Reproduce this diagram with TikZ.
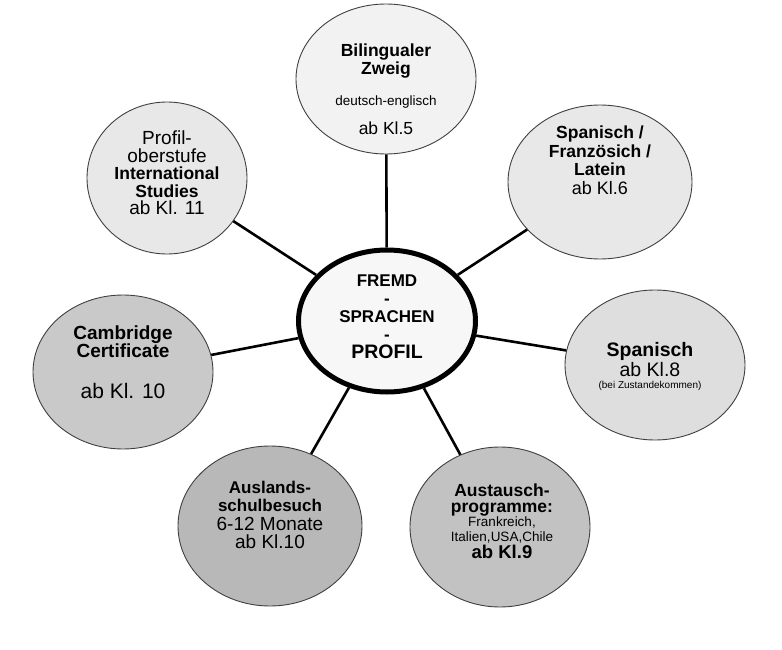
\documentclass[tikz,border=0pt]{standalone}
\usepackage{fontspec}
\setmainfont{Liberation Sans}
\usetikzlibrary{shapes.geometric}
\newcommand{\normsz}{\fontsize{17.5}{18.5}\selectfont}
\newcommand{\regsz}{\fontsize{19}{18.5}\selectfont}
\newcommand{\smlsz}{\fontsize{13.5}{14}\selectfont}
\newcommand{\tnysz}{\fontsize{10}{11}\selectfont}
\tikzset{
  bubble/.style={ellipse, draw=black!75, line width=0.9pt, inner sep=0pt},
  hub/.style={ellipse, draw=black, line width=5pt, fill=black!3, inner sep=0pt,
    minimum width=177pt, minimum height=142pt},
  txt/.style={align=center, font=\normsz, inner sep=0pt},
  spoke/.style={line width=2.6pt}
}

\begin{document}
\begin{tikzpicture}[x=1pt,y=-1pt]
\useasboundingbox (0,0) rectangle (782,650);

% the bubbles
\node[bubble, fill=black!5, minimum width=180pt, minimum height=150pt] (bil) at (386,79) {};
\node[bubble, fill=black!9, minimum width=160pt, minimum height=152pt] (prof) at (167,178) {};
\node[bubble, fill=black!9, minimum width=184pt, minimum height=154pt] (spfr) at (600,182) {};
\node[bubble, fill=black!21, minimum width=180pt, minimum height=154pt] (camb) at (123,372) {};
\node[bubble, fill=black!13, minimum width=180pt, minimum height=150pt] (span) at (655,365) {};
\node[bubble, fill=black!28, minimum width=184pt, minimum height=160pt] (ausl) at (270,526) {};
\node[bubble, fill=black!24, minimum width=180pt, minimum height=160pt] (aust) at (500,527) {};
\node[hub] (hub) at (387,321) {};

% the spokes
\foreach \b in {bil,prof,spfr,camb,span,ausl,aust}
  \draw[spoke] (hub) -- (\b);

% the texts
\node[txt] (biltx) at (386,89) {\textbf{Bilingualer}\\\textbf{Zweig}\\[12pt]{\smlsz deutsch-englisch}\\[11pt]ab Kl.5};
\node[txt] (proftx) at (167,173) {{\regsz Profil-}\\[-1pt]{\regsz oberstufe}\\[-1pt]\textbf{International}\\[-1pt]\textbf{Studies}\\[-1pt]{\regsz ab Kl. 11}};
\node[txt] (spfrtx) at (600,160) {\textbf{Spanisch /}\\\textbf{Französich /}\\\textbf{Latein}\\{\fontsize{18}{18.5}\selectfont ab Kl.6}};
\node[txt, font=\fontsize{17}{18}\selectfont\bfseries] (hubtx) at (387,317) {FREMD\\-\\SPRACHEN\\-\\{\fontsize{19.5}{20}\selectfont PROFIL}};
\node[txt, font=\fontsize{19}{18.5}\selectfont] (cambtx) at (123,362) {\textbf{Cambridge}\\\textbf{Certificate}\\[22pt]{\fontsize{21}{18.5}\selectfont ab Kl. 10}};
\node[txt, font=\fontsize{19.5}{19}\selectfont] (spantx) at (650,366) {\textbf{Spanisch}\\[1pt]ab Kl.8\\[-7pt]{\tnysz (bei Zustandekommen)}};
\node[txt, font=\fontsize{17}{18.5}\selectfont] (ausltx) at (270,515) {\textbf{Auslands-}\\\textbf{schulbesuch}\\{\regsz 6-12 Monate}\\{\regsz ab Kl.10}};
\node[txt] (austtx) at (502,521) {\textbf{Austausch-}\\[-2.5pt]\textbf{programme:}\\[-5pt]{\smlsz Frankreich,}\\[-3.5pt]{\smlsz Italien,USA,Chile}\\[-1.5pt]{\fontsize{18.5}{18.5}\selectfont\bfseries ab Kl.9}};
\end{tikzpicture}
\end{document}
